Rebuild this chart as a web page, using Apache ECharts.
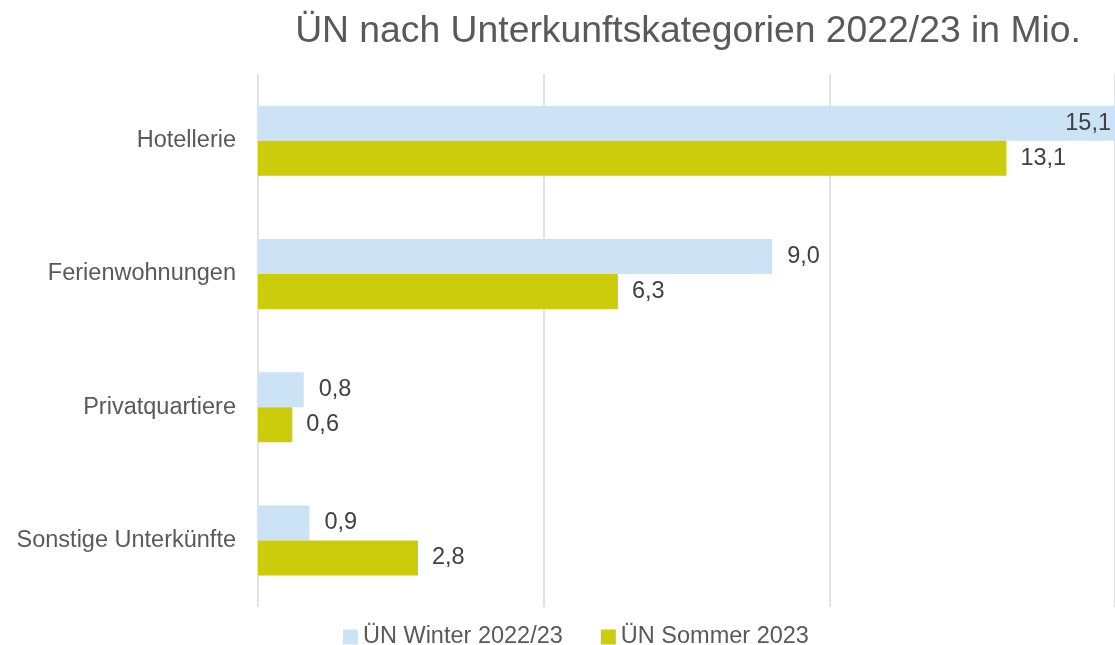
<!DOCTYPE html>
<html><head><meta charset="utf-8">
<script src="https://cdn.jsdelivr.net/npm/echarts@6/dist/echarts.min.js"></script>
<style>html,body{margin:0;padding:0;background:#fff}#c{width:1115px;height:645px}</style>
</head><body><div id="c"></div>
<script>
const categories = ['Hotellerie', 'Ferienwohnungen', 'Privatquartiere', 'Sonstige Unterkünfte'];
const winter = [15.1, 9.0, 0.8, 0.9];
const sommer = [13.1, 6.3, 0.6, 2.8];
const seriesNames = ['ÜN Winter 2022/23', 'ÜN Sommer 2023'];
const titleText = 'ÜN nach Unterkunftskategorien 2022/23 in Mio.';

const AX_MAX = 15;
const txt = '#595959';
const fmt = p => p.value.toFixed(1).replace('.', ',');
function mk(vals) {
  return vals.map(v => v > AX_MAX ? {value: v, label: {position: 'insideRight', distance: 4}} : v);
}
const chart = echarts.init(document.getElementById('c'), null, {renderer: 'canvas'});
chart.setOption({
  animation: false,
  textStyle: {fontFamily: 'Liberation Sans, Arial, sans-serif'},
  title: {text: titleText, left: 683, top: 8, textAlign: 'center',
    textStyle: {fontSize: 37.3, fontWeight: 'normal', color: txt, fontFamily: 'Liberation Sans, Arial, sans-serif'}},
  legend: {top: 620, left: 338, itemWidth: 15, itemHeight: 15, itemGap: 38,
    icon: 'rect', textStyle: {fontSize: 23.5, color: txt}, data: seriesNames},
  grid: {left: 258, right: 0, top: 74, bottom: 38, containLabel: false},
  xAxis: {type: 'value', min: 0, max: AX_MAX, interval: 5,
    axisLabel: {show: false}, axisLine: {show: false}, axisTick: {show: false},
    splitLine: {lineStyle: {color: '#d9d9d9', width: 1.5}}},
  yAxis: {type: 'category', data: categories, inverse: true,
    axisLine: {show: false}, axisTick: {show: false},
    axisLabel: {fontSize: 23.5, color: txt, margin: 22}},
  series: [
    {name: seriesNames[0], type: 'bar', data: mk(winter), barWidth: 35, barGap: '0%',
     itemStyle: {color: '#cce2f5'},
     label: {show: true, position: 'right', distance: 15, fontSize: 23.5, color: '#404040', formatter: fmt}},
    {name: seriesNames[1], type: 'bar', data: mk(sommer), barWidth: 35, barGap: '0%',
     itemStyle: {color: '#cccc0a'},
     label: {show: true, position: 'right', distance: 14, fontSize: 23.5, color: '#404040', formatter: fmt}}
  ]
});
</script></body></html>
